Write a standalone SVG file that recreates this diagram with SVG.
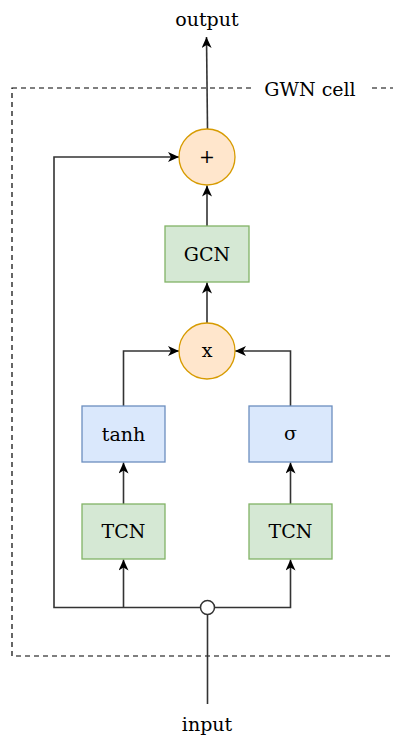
<svg xmlns="http://www.w3.org/2000/svg" width="393" height="743" viewBox="0 0 393 743">
<defs>
<marker id="arr" markerUnits="userSpaceOnUse" markerWidth="13" markerHeight="12" refX="11" refY="5" orient="auto">
<path d="M0,0 L11,5 L0,10 L3,5 Z" fill="#000"/>
</marker>
<style>
.t{font-family:"DejaVu Serif","Liberation Serif",serif;font-size:19px;fill:#000;text-anchor:middle}
.c{stroke:#333;stroke-width:1.6;fill:none}
.g{fill:#d5e8d4;stroke:#82b366;stroke-width:1.3}
.b{fill:#dae8fc;stroke:#6c8ebf;stroke-width:1.3}
.o{fill:#ffe6cc;stroke:#d79b00;stroke-width:1.3}
</style>
</defs>
<rect width="393" height="743" fill="#fff"/>
<g id="cell">
<rect x="12" y="88" width="400" height="568" fill="none" stroke="#000" stroke-width="1.2" stroke-dasharray="5,4"/>
<rect x="251" y="78" width="118" height="20" fill="#fff"/>
<text class="t" x="310" y="96">GWN cell</text>
</g>
<g id="connectors">
<path class="c" d="M207.5,129 L206.5,37" marker-end="url(#arr)"/>
<path class="c" d="M207,226 L207,185.5" marker-end="url(#arr)"/>
<path class="c" d="M207,323 L207,282.5" marker-end="url(#arr)"/>
<path class="c" d="M123.5,406 L123.5,351 L179,351" marker-end="url(#arr)"/>
<path class="c" d="M290.5,406 L290.5,351 L235,351" marker-end="url(#arr)"/>
<path class="c" d="M123.5,504 L123.5,462.5" marker-end="url(#arr)"/>
<path class="c" d="M290.5,504 L290.5,462.5" marker-end="url(#arr)"/>
<path class="c" d="M200,607.5 L54,607.5 L54,157 L179,157" marker-end="url(#arr)"/>
<path class="c" d="M123.5,607.5 L123.5,559.5" marker-end="url(#arr)"/>
<path class="c" d="M215,607.5 L290.5,607.5 L290.5,559.5" marker-end="url(#arr)"/>
<path class="c" d="M207.5,615 L207.5,704"/>
<circle cx="207.5" cy="607.5" r="7" fill="#fff" stroke="#333" stroke-width="1.5"/>
</g>
<g id="output"><text class="t" x="207" y="26">output</text></g>
<g id="input"><text class="t" x="207" y="731">input</text></g>
<g id="plus"><circle class="o" cx="207" cy="157" r="28"/><text class="t" x="207" y="163">+</text></g>
<g id="gcn"><rect class="g" x="165" y="226" width="84" height="56"/><text class="t" x="207" y="261">GCN</text></g>
<g id="mult"><circle class="o" cx="207" cy="351" r="28"/><text class="t" x="207" y="357">x</text></g>
<g id="tanh"><rect class="b" x="82" y="406" width="83" height="56"/><text class="t" x="123.5" y="441">tanh</text></g>
<g id="sigma"><rect class="b" x="249" y="406" width="83" height="56"/><text class="t" x="290.5" y="440">σ</text></g>
<g id="tcn1"><rect class="g" x="82" y="504" width="83" height="55"/><text class="t" x="123.5" y="538">TCN</text></g>
<g id="tcn2"><rect class="g" x="249" y="504" width="83" height="55"/><text class="t" x="290.5" y="538">TCN</text></g>
</svg>
